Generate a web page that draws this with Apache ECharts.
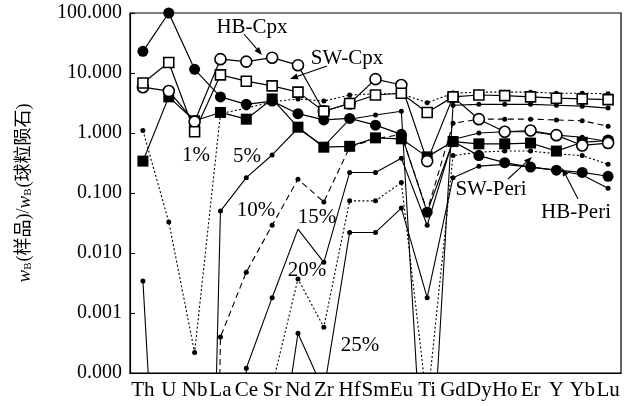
<!DOCTYPE html>
<html><head><meta charset="utf-8">
<script src="https://cdn.jsdelivr.net/npm/echarts@6/dist/echarts.min.js"></script>
<style>html,body{margin:0;padding:0;background:#fff}#c{width:629px;height:406px}</style>
</head><body><div id="c"></div>
<script>
const categories = ['Th','U','Nb','La','Ce','Sr','Nd','Zr','Hf','Sm','Eu','Ti','Gd','Dy','Ho','Er','Y','Yb','Lu'];
const yTickLabels = ['100.000','10.000','1.000','0.100','0.010','0.001','0.000'];

// samples
const hbCpx  = [5.8, 5.0, 1.55, 17, 15.5, 18, 13.5, 2.3, 3.1, 7.9, 6.3, 0.34, 4.0, 1.7, 1.05, 1.1, 0.92, 0.62, 0.68];
const swCpx  = [6.8, 15, 1.05, 9.3, 7.3, 6.1, 4.8, 2.3, 3.1, 4.3, 4.6, 2.2, 4.0, 4.3, 4.2, 4.0, 3.8, 3.7, 3.6];
const hbPeri = [23, 100, 11.5, 4.0, 3.0, 3.4, 2.1, 1.65, 1.75, 1.35, 0.95, 0.048, 0.72, 0.42, 0.32, 0.27, 0.24, 0.22, 0.19];
const swPeri = [0.34, 4.0, 1.6, 2.2, 1.7, 3.7, 1.25, 0.58, 0.6, 0.83, 0.8, 0.4, 0.72, 0.66, 0.66, 0.68, 0.5, 0.7, 0.75];

// melting models
const m1  = [1.1, 0.033, 0.00022, 2.1, 2.6, 3.3, 3.7, 3.4, 4.3, 4.5, 4.5, 3.2, 4.6, 4.8, 4.8, 4.8, 4.6, 4.6, 4.5];
const m5  = [0.0034, 1e-10, 1e-19, 0.05, 0.18, 0.43, 1.2, 0.6, 1.7, 2.0, 2.3, 1e-7, 2.9, 3.0, 3.0, 3.0, 2.9, 2.8, 2.6];
const m10 = [1e-30, 1e-30, 1e-30, 0.0004, 0.0048, 0.029, 0.17, 0.071, 0.58, 0.8, 0.95, 0.05, 1.45, 1.7, 1.7, 1.7, 1.65, 1.6, 1.3];
const m15 = [1e-30, 1e-30, 1e-30, 1e-30, 0.00012, 0.0018, 0.025, 0.007, 0.22, 0.22, 0.38, 0.029, 0.78, 1.0, 1.05, 1.05, 0.92, 0.85, 0.72];
const m20 = [1e-30, 1e-30, 1e-30, 1e-30, 1e-30, 6e-5, 0.0037, 0.00058, 0.074, 0.074, 0.15, 3e-5, 0.42, 0.48, 0.5, 0.5, 0.45, 0.42, 0.3];
const m25 = [1e-30, 1e-30, 1e-30, 1e-30, 1e-30, 6e-7, 0.00046, 5e-5, 0.022, 0.022, 0.056, 0.0018, 0.18, 0.28, 0.3, 0.27, 0.24, 0.2, 0.12];

const SERIF = '"Liberation Serif","Times New Roman",serif';

function model(name, data, dash) {
  return {
    name, type: 'line', data, symbol: 'circle', symbolSize: 5, clip: true, z: 2,
    itemStyle: { color: '#000' },
    lineStyle: { color: '#000', width: 1.1, type: dash },
    animation: false
  };
}
function sample(name, data, symbol, size, filled) {
  return {
    name, type: 'line', data, symbol, symbolSize: size, clip: true, z: 3,
    itemStyle: filled ? { color: '#000' } : { color: '#fff', borderColor: '#000', borderWidth: 1.6 },
    lineStyle: { color: '#000', width: 1.2 },
    animation: false
  };
}

const m15Data = m15.map((v, i) => categories[i] === 'Nd' ? { value: v, symbol: 'none' } : v);
const swPeriData = swPeri.map((v, i) => categories[i] === 'Lu' ? { value: v, symbol: 'circle', symbolSize: 12 } : v);

function arrow(x1, y1, x2, y2) {
  const a = Math.atan2(y2 - y1, x2 - x1), L = 8, W = 3;
  const bx = x2 - L * Math.cos(a), by = y2 - L * Math.sin(a);
  const px = -Math.sin(a) * W, py = Math.cos(a) * W;
  return [
    { type: 'line', shape: { x1, y1, x2: bx, y2: by }, style: { stroke: '#000', lineWidth: 1.1 }, z: 10 },
    { type: 'polygon', shape: { points: [[x2, y2], [bx + px, by + py], [bx - px, by - py]] }, style: { fill: '#000' }, z: 10 }
  ];
}
function label(text, x, y, size) {
  return { type: 'text', x, y, z: 10, style: { text, font: (size || 21) + 'px ' + SERIF, fill: '#000', textAlign: 'center', verticalAlign: 'middle', textVerticalAlign: 'middle' } };
}

const chart = echarts.init(document.getElementById('c'), null, { renderer: 'canvas' });
chart.setOption({
  animation: false,
  backgroundColor: '#fff',
  grid: { left: 130, right: 8, top: 13, bottom: 33, containLabel: false, outerBoundsMode: 'none',
          show: true, borderColor: '#000', borderWidth: 1.2, backgroundColor: 'transparent' },
  xAxis: {
    type: 'category', data: categories, boundaryGap: true,
    axisLine: { lineStyle: { color: '#000', width: 1.2 } },
    axisTick: { inside: true, length: 5, lineStyle: { color: '#000', width: 1.1 } },
    axisLabel: { interval: 0, color: '#000', fontFamily: SERIF, fontSize: 21, margin: 7 },
    splitLine: { show: false }
  },
  yAxis: {
    type: 'log', logBase: 10, min: 0.0001, max: 100,
    axisLine: { show: true, lineStyle: { color: '#000', width: 1.2 } },
    axisTick: { show: true, inside: true, length: 5, lineStyle: { color: '#000', width: 1.1 } },
    axisLabel: { color: '#000', fontFamily: SERIF, fontSize: 20, margin: 8,
      formatter: v => yTickLabels[Math.round(2 - Math.log10(v))] },
    splitLine: { show: false },
    minorTick: { show: false },
    name: '{w|w}{b|B}(样品)/{w|w}{b|B}(球粒陨石)',
    nameLocation: 'middle', nameRotate: 90, nameGap: 96,
    nameTextStyle: {
      color: '#000', fontFamily: '"Liberation Serif","Noto Sans CJK SC",serif', fontSize: 18,
      rich: {
        w: { fontStyle: 'italic', fontFamily: SERIF, fontSize: 19, color: '#000' },
        b: { fontFamily: SERIF, fontSize: 11, color: '#000', verticalAlign: 'bottom', padding: [8, 1, 0, 0] }
      }
    }
  },
  series: [
    model('1%', m1, [2, 2.2]),
    model('5%', m5, 'solid'),
    model('10%', m10, [6, 4]),
    model('15%', m15Data, 'solid'),
    model('20%', m20, [2, 2.2]),
    model('25%', m25, 'solid'),
    sample('SW-Peri', swPeriData, 'rect', 11, true),
    sample('HB-Peri', hbPeri, 'circle', 11, true),
    sample('HB-Cpx', hbCpx, 'circle', 11, false),
    sample('SW-Cpx', swCpx, 'rect', 10, false)
  ],
  graphic: [
    label('HB-Cpx', 252, 27),
    label('SW-Cpx', 347, 58),
    label('SW-Peri', 491, 189),
    label('HB-Peri', 576, 212),
    label('1%', 196, 155),
    label('5%', 247, 156),
    label('10%', 256, 210),
    label('15%', 317, 217),
    label('20%', 307, 270),
    label('25%', 360, 345),
    ...arrow(244, 34, 262, 55),
    ...arrow(327, 66, 290, 79),
    ...arrow(508, 179, 532, 157),
    ...arrow(578, 199, 562, 168)
  ]
});
</script></body></html>
